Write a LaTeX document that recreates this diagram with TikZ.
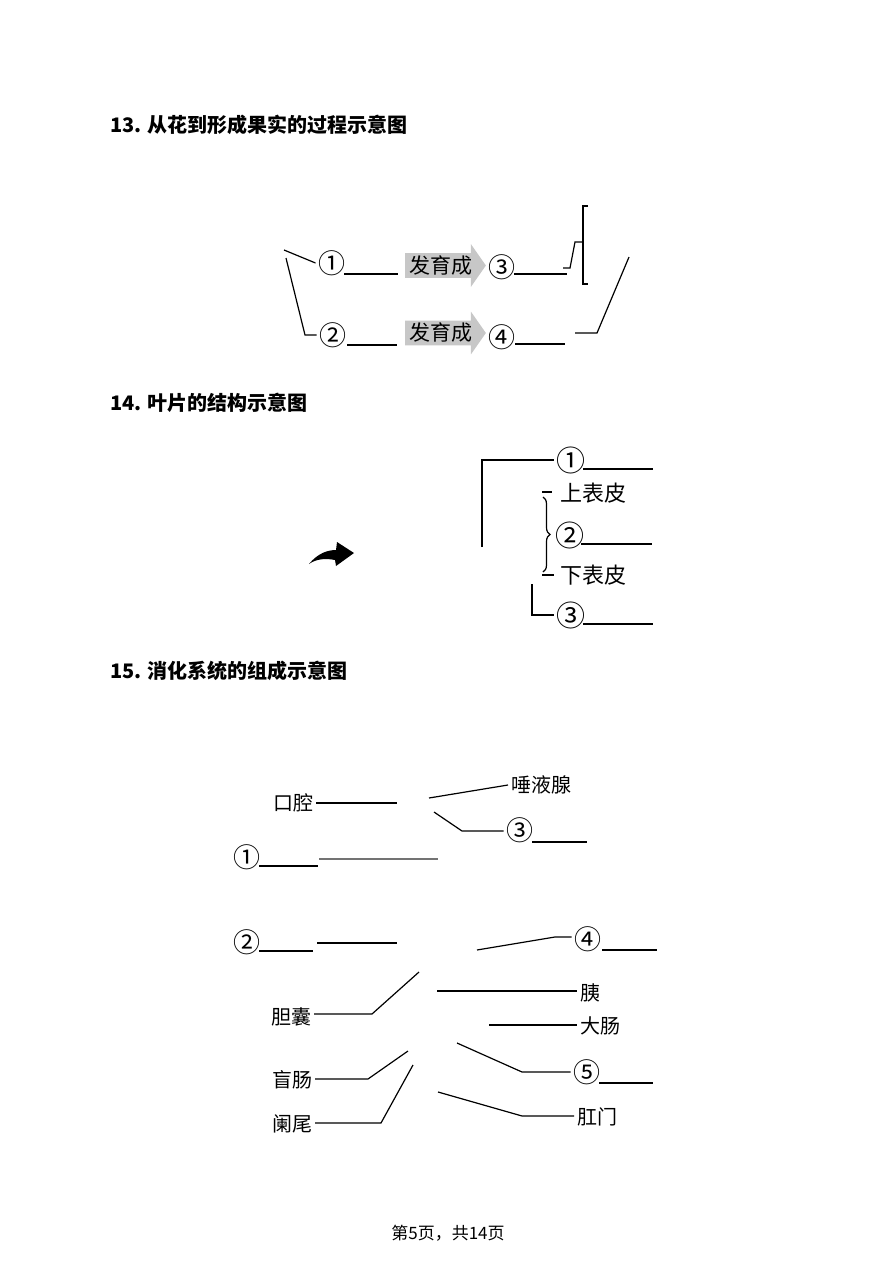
\documentclass[tikz,border=0pt]{standalone}
\usepackage{fontspec}
\setmainfont{Noto Sans CJK SC}
\usetikzlibrary{calc,shapes.arrows,decorations.pathreplacing}

\begin{document}
\begin{tikzpicture}[x=0.5pt,y=-0.5pt,line width=0.6pt,
  every node/.style={inner sep=0pt,outer sep=1.5pt},
  qtitle/.style={anchor=west,font=\bfseries\fontsize{10}{12}\selectfont},
  lab/.style={font=\fontsize{#1}{12}\selectfont}, lab/.default=10,
  circ/.style={font=\fontsize{#1}{16}\selectfont}, circ/.default=13.5,
  devarrow/.style={single arrow,fill=black!22,anchor=tail,font=\fontsize{10.5}{12}\selectfont,
    inner xsep=2pt,inner ysep=1pt,outer sep=0pt,single arrow head extend=4.5pt,single arrow tip angle=110}]
  \newcommand{\ansline}[3]{\draw ($(#1)+(#2)$) -- ++(#3,0);}
  \useasboundingbox (0,0) rectangle (895,1280);

  % 13
  \node[qtitle] (t13) at (107,125) {13. 从花到形成果实的过程示意图};
  \node[circ] (n1) at (332,263) {①};
  \node[circ] (n2) at (333,335) {②};
  \node[circ] (n3) at (502,267) {③};
  \node[circ] (n4) at (502,337) {④};
  \node[devarrow] (g1) at (405,265.5) {发育成};
  \node[devarrow] (g2) at (405,333) {发育成};
  \foreach \c/\x/\y in {p1/284/250,p2/286/258,p3/305/335,
      q1/563/268,q2/570/268,q3/575/242,q4/583/242,
      q5/588/206,q6/583/206,q7/583/284,q8/588/284,
      q9/575/333,q10/597/333,q11/629/257}
    \coordinate (\c) at (\x,\y);
  \draw (p1) -- (n1.west);
  \draw (p2) -- (p3) -- (p3 -| n2.west);
  \draw (q1) -- (q2) -- (q3) -- (q4);
  \draw (q5) -- (q6) -- (q7) -- (q8);
  \draw (q9) -- (q10) -- (q11);
  \ansline{n1}{12,11}{54}
  \ansline{n2}{14,10}{50}
  \ansline{n3}{12,7}{53}
  \ansline{n4}{13,7}{50}

  % 14
  \node[qtitle] (t14) at (107,403) {14. 叶片的结构示意图};
  \fill (309,564) .. controls (318,553) and (328,550) .. (336,550) -- (337,542) -- (354,553)
    -- (336,566) -- (335,560) .. controls (325,558) and (316,559) .. cycle;
  \node[circ=14.5] (m1) at (571,460) {①};
  \node[lab=11] (up) at (593,493) {上表皮};
  \node[circ=14.5] (m2) at (570,535) {②};
  \node[lab=11] (dn) at (593,575) {下表皮};
  \node[circ=14.5] (m3) at (571,615) {③};
  \foreach \c/\x/\y in {r1/482/547,r2/532/584,r3/543/497,r4/543/572}
    \coordinate (\c) at (\x,\y);
  \draw (r1) |- (m1.west);
  \draw (r2) |- (m3.west);
  \draw[decorate,decoration={brace,amplitude=3.5pt}] (r3) -- (r4);
  \draw ($(up.west)+(-15,-1)$) -- ++(10,0);
  \draw ($(dn.west)+(-15,0)$) -- ++(12,0);
  \ansline{m1}{12,9}{70}
  \ansline{m2}{11,9}{71}
  \ansline{m3}{12,9}{70}

  % 15
  \node[qtitle] (t15) at (107,671) {15. 消化系统的组成示意图};
  \node[lab] (k1) at (293,803) {口腔};
  \node[lab] (k2) at (541,785) {唾液腺};
  \node[circ] (k3) at (520,830) {③};
  \node[circ] (k4) at (247,857) {①};
  \node[circ] (k5) at (247,942) {②};
  \node[circ] (k6) at (588,939) {④};
  \node[lab] (k7) at (291,1017) {胆囊};
  \node[lab] (k8) at (590,993) {胰};
  \node[lab] (k9) at (600,1026) {大肠};
  \node[circ] (k10) at (587,1072) {⑤};
  \node[lab] (k11) at (292,1080) {盲肠};
  \node[lab] (k12) at (292,1124) {阑尾};
  \node[lab] (k13) at (597,1117) {肛门};
  \foreach \c/\x/\y in {s1/397/803,s2/429/798,s3/434/812,s4/462/831,
      s5/319/859,s6/438/859,s7/317/943,s8/397/943,s9/477/950,s10/555/937,
      s11/419/972,s12/372/1014,s13/437/991,s14/489/1025,s15/457/1043,s16/522/1072,
      s17/408/1051,s18/368/1079,s19/413/1065,s20/381/1123,s21/438/1092,s22/522/1116}
    \coordinate (\c) at (\x,\y);
  \draw (s1 -| k1.east) -- (s1);
  \draw (s2) -- (k2.west);
  \draw (s3) -- (s4) -- (s4 -| k3.west);
  \draw[black!55] (s5) -- (s6);
  \draw (s7) -- (s8);
  \draw (s9) -- (s10) -- (s10 -| k6.west);
  \draw (s11) -- (s12) -- (s12 -| k7.east);
  \draw (s13) -- (s13 -| k8.west);
  \draw (s14) -- (s14 -| k9.west);
  \draw (s15) -- (s16) -- (s16 -| k10.west);
  \draw (s17) -- (s18) -- (s18 -| k11.east);
  \draw (s19) -- (s20) -- (s20 -| k12.east);
  \draw (s21) -- (s22) -- (s22 -| k13.west);
  \ansline{k3}{12,12}{55}
  \ansline{k4}{12,9}{59}
  \ansline{k5}{12,9}{54}
  \ansline{k6}{14,11}{55}
  \ansline{k10}{12,11}{54}

  \node[font=\fontsize{8.5}{10}\selectfont] (pg) at (448,1233) {第5页，共14页};
\end{tikzpicture}
\end{document}
